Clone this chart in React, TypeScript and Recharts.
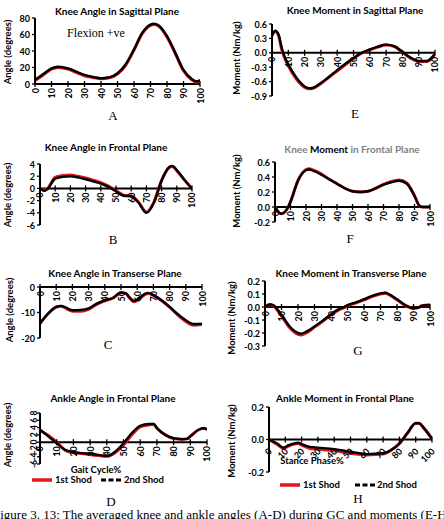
import React from 'react';
import { LineChart, Line, XAxis, YAxis, ReferenceLine, ReferenceDot } from 'recharts';

const RED = '#e3171d';
const SANS = 'Lato, "Open Sans", sans-serif';
const SERIF = '"Liberation Serif", "DejaVu Serif", serif';
const STEPS = [0, 10, 20, 30, 40, 50, 60, 70, 80, 90, 100];

// A - knee angle sagittal
const aX = [0, 5, 10, 14, 20, 25, 30, 35, 40, 45, 50, 55, 60, 65, 70, 72, 75, 80, 85, 90, 95, 98, 100];
const aFirst = [4, 11, 18, 20, 18, 14, 10, 8, 6.5, 7.5, 12, 23, 41, 61, 71, 72, 70, 57, 37, 16, 5, 2, 4];
const aSecond = [5, 12, 19, 21, 19, 15, 11, 8.5, 7, 8, 13, 24, 42, 62, 72, 73, 71, 58, 38, 17, 6, 3, 5];

// E - knee moment sagittal
const eX = [0, 2, 4, 6, 8, 10, 15, 20, 23, 25, 30, 35, 40, 45, 50, 55, 60, 65, 70, 75, 80, 85, 90, 95, 100];
const eFirst = [0.36, 0.45, 0.36, 0.06, -0.13, -0.27, -0.55, -0.72, -0.75, -0.74, -0.64, -0.51, -0.38, -0.25, -0.12, -0.01, 0.06, 0.12, 0.16, 0.13, 0.01, -0.11, -0.18, -0.18, -0.03];
const eSecond = [0.36, 0.46, 0.38, 0.1, -0.1, -0.24, -0.52, -0.7, -0.74, -0.73, -0.63, -0.5, -0.36, -0.23, -0.11, 0.0, 0.07, 0.13, 0.17, 0.14, 0.02, -0.1, -0.17, -0.17, -0.02];

// B - knee angle frontal
const bX = [0, 3, 5, 10, 15, 20, 25, 30, 35, 40, 45, 50, 55, 60, 65, 70, 75, 80, 85, 87, 90, 95, 100];
const bFirst = [0, -0.3, 0, 1.8, 2.1, 2.2, 2.0, 1.7, 1.35, 0.95, 0.4, -0.35, -1.1, -1.2, -2.3, -3.9, -2.2, 1.3, 3.4, 3.6, 2.9, 1.4, 0];
const bSecond = [0, -0.4, -0.1, 1.6, 1.9, 2.0, 1.8, 1.5, 1.15, 0.8, 0.25, -0.5, -1.2, -1.3, -2.4, -4.0, -2.3, 1.3, 3.5, 3.7, 3.0, 1.4, -0.1];

// F - knee moment frontal
const fX = [0, 4, 8, 10, 15, 20, 22, 25, 30, 35, 40, 45, 50, 55, 60, 65, 70, 75, 80, 85, 90, 93, 95, 100];
const fFirst = [0, -0.09, -0.02, 0.07, 0.36, 0.5, 0.51, 0.49, 0.44, 0.37, 0.31, 0.25, 0.21, 0.2, 0.21, 0.25, 0.3, 0.34, 0.36, 0.32, 0.15, 0.02, 0, 0];
const fSecond = [0, -0.09, -0.02, 0.07, 0.36, 0.49, 0.5, 0.48, 0.43, 0.37, 0.31, 0.25, 0.21, 0.2, 0.21, 0.25, 0.3, 0.33, 0.35, 0.31, 0.15, 0.02, 0, 0];

// C - knee angle transverse
const cX = [0, 5, 10, 13, 15, 20, 25, 30, 35, 40, 45, 50, 53, 55, 58, 60, 65, 67, 70, 75, 80, 85, 90, 95, 100];
const cFirst = [-14.3, -10.5, -7.9, -7.5, -8.0, -9.5, -9.5, -8.8, -6.8, -5.4, -4.4, -2.3, -2.6, -4.1, -5.8, -5.3, -2.9, -2.5, -3.3, -5.3, -7.9, -10.9, -13.5, -15.0, -14.6];
const cSecond = [-14.3, -10.4, -7.8, -7.4, -7.8, -9.1, -9, -8.4, -6.5, -5.2, -4.3, -2.2, -2.4, -3.9, -5.5, -4.9, -2.6, -2.3, -3.2, -5.2, -7.8, -10.6, -13, -14.5, -14.5];

// G - knee moment transverse
const gX = [0, 3, 5, 10, 15, 20, 22, 25, 30, 35, 40, 45, 48, 50, 55, 60, 65, 70, 73, 75, 80, 85, 90, 93, 95, 100];
const gFirst = [0, 0.02, 0.01, -0.07, -0.16, -0.21, -0.215, -0.2, -0.155, -0.11, -0.06, -0.02, -0.005, 0.01, 0.03, 0.055, 0.08, 0.1, 0.105, 0.095, 0.055, 0.012, -0.01, -0.005, 0.01, 0.015];
const gSecond = [0, 0.02, 0.015, -0.06, -0.15, -0.2, -0.205, -0.19, -0.15, -0.105, -0.055, -0.015, 0, 0.015, 0.035, 0.06, 0.085, 0.105, 0.11, 0.1, 0.06, 0.015, -0.01, -0.005, 0.01, 0.015];

// D - ankle angle frontal
const dX = [0, 5, 10, 15, 20, 25, 30, 35, 40, 45, 50, 55, 60, 65, 68, 70, 75, 80, 85, 88, 90, 95, 98, 100];
const dFirst = [3.3, 1.8, 0, -2.2, -2.9, -3.1, -3.4, -3.7, -3.9, -2.9, -0.8, 2, 4.2, 4.7, 4.9, 3.8, 2, 1, 0.8, 0.9, 1.6, 3.4, 3.8, 3.5];
const dSecond = [3.4, 1.6, -0.3, -2.1, -2.75, -3, -3.2, -3.5, -3.8, -2.6, -0.3, 2.5, 4.5, 5, 5, 3.9, 2, 1.1, 0.8, 0.9, 1.6, 3.4, 3.8, 3.5];

// H - ankle moment frontal
const hX = [0, 5, 9, 12, 15, 18, 20, 25, 30, 40, 50, 60, 70, 75, 80, 82, 85, 90, 92, 95, 100];
const hFirst = [0, -0.03, -0.055, -0.04, -0.03, -0.025, -0.035, -0.055, -0.06, -0.07, -0.085, -0.095, -0.09, -0.065, -0.025, 0, 0.04, 0.1, 0.1, 0.07, 0.005];
const hSecond = [0, -0.025, -0.05, -0.035, -0.025, -0.02, -0.028, -0.045, -0.05, -0.06, -0.075, -0.09, -0.085, -0.065, -0.025, 0, 0.04, 0.1, 0.1, 0.07, 0.005];

type PanelProps = {
  x0: number; x1: number; yTop: number; yBot: number;
  domain: [number, number]; ticks: number[];
  xs: number[]; first: number[]; second: number[];
  dec?: number; diag?: boolean; rotY?: boolean;
};

function XTick({ cx, cy, value, diag }: any) {
  const ty = cy + (diag ? 10 : 4);
  const tx = cx + (diag ? 1 : 0);
  return (
    <g>
      <line x1={cx} x2={cx} y1={cy - 3} y2={cy + 3} stroke="#000" strokeWidth={1.3} />
      <text x={tx} y={ty} transform={`rotate(${diag ? -45 : -90} ${tx} ${ty})`} textAnchor="end"
        dominantBaseline="central" fontSize={9} fontWeight={700} fontFamily={SANS} fill="#000">{value}</text>
    </g>
  );
}

function Panel(p: PanelProps) {
  const padL = 40, padT = 12, padR = 16, padB = 34;
  const w = p.x1 - p.x0 + padL + padR;
  const h = p.yBot - p.yTop + padT + padB;
  const data = p.xs.map((x, i) => ({ x, first: p.first[i], second: p.second[i] }));
  const fmt = (v: number) => (p.dec ? v.toFixed(p.dec) : String(v));
  const yTick = (t: any) => {
    const label = fmt(t.payload.value);
    if (p.rotY) {
      const lx = t.x + 2;
      return <text x={lx} y={t.y} transform={`rotate(-90 ${lx} ${t.y})`} textAnchor="middle"
        fontSize={8.5} fontWeight={700} fontFamily={SANS} fill="#000">{label}</text>;
    }
    return <text x={t.x} y={t.y} textAnchor="end" dominantBaseline="central"
      fontSize={9} fontWeight={700} fontFamily={SANS} fill="#000">{label}</text>;
  };
  return (
    <div style={{ position: 'absolute', left: p.x0 - padL, top: p.yTop - padT }}>
      <LineChart width={w} height={h} data={data} margin={{ top: padT, right: padR, bottom: padB, left: padL - 30 }}>
        <XAxis type="number" dataKey="x" domain={[0, 100]} allowDataOverflow hide />
        <YAxis type="number" domain={p.domain} ticks={p.ticks} interval={0} allowDataOverflow width={30}
          axisLine={{ stroke: '#000', strokeWidth: 2 }} tickLine={{ stroke: '#000', strokeWidth: 1.3 }}
          tickSize={3} tick={yTick} />
        <ReferenceLine y={0} stroke="#000" strokeWidth={2} ifOverflow="visible" />
        {STEPS.map((t) => (
          <ReferenceDot key={t} x={t} y={0} r={0} ifOverflow="visible"
            shape={(s: any) => <XTick cx={s.cx} cy={s.cy} value={t} diag={p.diag} />} />
        ))}
        <Line type="monotone" dataKey="first" stroke={RED} strokeWidth={3} dot={false} isAnimationActive={false} />
        <Line type="monotone" dataKey="second" stroke="#000" strokeWidth={2.4} dot={false} isAnimationActive={false} />
      </LineChart>
    </div>
  );
}

function Txt({ x, y, children, size = 10, bold = true, serif = false, color = '#000', rot = false, left = false }: any) {
  return (
    <div style={{
      position: 'absolute', left: x, top: y, whiteSpace: 'nowrap', lineHeight: 1,
      transform: `${left ? 'translate(0,-50%)' : 'translate(-50%,-50%)'}${rot ? ' rotate(-90deg)' : ''}`,
      fontFamily: serif ? SERIF : SANS, fontWeight: bold ? 700 : 400, fontSize: size, color,
    }}>{children}</div>
  );
}

function LegendRow({ x1, x2, x3, x4, y }: any) {
  return (
    <>
      <svg style={{ position: 'absolute', left: 0, top: y - 4 }} width={444} height={8}>
        <line x1={x1} x2={x1 + 20} y1={4} y2={4} stroke={RED} strokeWidth={3.5} />
        <line x1={x3} x2={x3 + 20} y1={4} y2={4} stroke="#000" strokeWidth={3} strokeDasharray="5 2.5" />
      </svg>
      <Txt x={x2} y={y} size={9.5} left>1st Shod</Txt>
      <Txt x={x4} y={y} size={9.5} left>2nd Shod</Txt>
    </>
  );
}

export default function App() {
  return (
    <div style={{ position: 'fixed', left: 0, top: 0, width: 444, height: 519, overflow: 'hidden', background: '#fff' }}>
      <Panel x0={35} x1={200} yTop={18} yBot={84} domain={[0, 80]} ticks={[0, 20, 40, 60, 80]} xs={aX} first={aFirst} second={aSecond} />
      <Panel x0={272} x1={435} yTop={24} yBot={96} domain={[-0.9, 0.6]} ticks={[-0.9, -0.6, -0.3, 0, 0.3, 0.6]} xs={eX} first={eFirst} second={eSecond} dec={1} />
      <Panel x0={40} x1={192} yTop={164} yBot={225} domain={[-6, 4]} ticks={[-6, -4, -2, 0, 2, 4]} xs={bX} first={bFirst} second={bSecond} />
      <Panel x0={275} x1={430} yTop={162} yBot={222} domain={[-0.2, 0.6]} ticks={[-0.2, 0, 0.2, 0.4, 0.6]} xs={fX} first={fFirst} second={fSecond} dec={1} />
      <Panel x0={40} x1={202} yTop={287} yBot={338} domain={[-20, 0]} ticks={[-20, -10, 0]} xs={cX} first={cFirst} second={cSecond} />
      <Panel x0={265} x1={430} yTop={281} yBot={346} domain={[-0.3, 0.2]} ticks={[-0.3, -0.2, -0.1, 0, 0.1, 0.2]} xs={gX} first={gFirst} second={gSecond} dec={1} />
      <Panel x0={40} x1={207} yTop={413} yBot={464} domain={[-6, 8]} ticks={[-6, -4, -2, 0, 2, 4, 6, 8]} xs={dX} first={dFirst} second={dSecond} rotY />
      <Panel x0={269} x1={432} yTop={407} yBot={472} domain={[-0.2, 0.2]} ticks={[-0.2, 0, 0.2]} xs={hX} first={hFirst} second={hSecond} dec={1} diag />

      <Txt x={117} y={11}>Knee Angle in Sagittal Plane</Txt>
      <Txt x={355} y={10}>Knee Moment in Sagittal Plane</Txt>
      <Txt x={106} y={147}>Knee Angle in Frontal Plane</Txt>
      <Txt x={352} y={149} color="#7f7f7f">Knee <span style={{ color: '#000' }}>Moment</span> in Frontal Plane</Txt>
      <Txt x={115} y={273}>Knee Angle in Transerse Plane</Txt>
      <Txt x={351} y={273}>Knee Moment in Transverse Plane</Txt>
      <Txt x={113} y={398}>Ankle Angle in Frontal Plane</Txt>
      <Txt x={345} y={398}>Ankle Moment in Frontal Plane</Txt>

      <Txt x={8} y={52} size={9.5} rot>Angle (degrees)</Txt>
      <Txt x={237} y={58} size={9.5} rot>Moment (Nm/kg)</Txt>
      <Txt x={8} y={195} size={9.5} rot>Angle (degrees)</Txt>
      <Txt x={237} y={191} size={9.5} rot>Moment (Nm/kg)</Txt>
      <Txt x={10} y={310} size={9.5} rot>Angle (degrees)</Txt>
      <Txt x={232} y={318} size={9.5} rot>Moment (Nm/kg)</Txt>
      <Txt x={8} y={435} size={9.5} rot>Angle (degrees)</Txt>
      <Txt x={232} y={441} size={9.5} rot>Moment (Nm/kg)</Txt>

      <Txt x={96} y={33} size={12} bold={false} serif>Flexion +ve</Txt>

      <Txt x={113} y={115} size={13} bold={false} serif>A</Txt>
      <Txt x={355} y={113} size={13} bold={false} serif>E</Txt>
      <Txt x={113} y={239} size={13} bold={false} serif>B</Txt>
      <Txt x={350} y={238} size={13} bold={false} serif>F</Txt>
      <Txt x={108} y={344} size={13} bold={false} serif>C</Txt>
      <Txt x={358} y={350} size={13} bold={false} serif>G</Txt>
      <Txt x={111} y={501} size={13} bold={false} serif>D</Txt>
      <Txt x={358} y={498} size={13} bold={false} serif>H</Txt>

      <Txt x={96} y={470} size={9.5}>Gait Cycle%</Txt>
      <Txt x={312} y={461} size={9.5}>Stance Phase%</Txt>
      <LegendRow x1={32} x2={55} x3={101} x4={124} y={480} />
      <LegendRow x1={280} x2={303} x3={355} x4={377} y={485} />

      <Txt x={-7} y={514} size={13} bold={false} serif left>
        Figure 3. 13: The averaged knee and ankle angles (A-D) during GC and moments (E-H)
      </Txt>
    </div>
  );
}
